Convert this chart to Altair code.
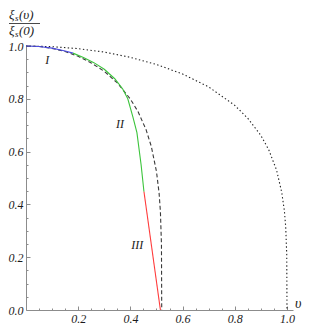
import altair as alt
import pandas as pd

# ---- data ----
dotted_v = [0, 0.1, 0.2, 0.3, 0.4, 0.5, 0.6, 0.7, 0.8, 0.85, 0.9, 0.93, 0.96, 0.98, 0.99, 0.995, 0.999, 1.0]
dotted_y = [1.0, 0.9975, 0.990, 0.977, 0.957, 0.930, 0.894, 0.845, 0.775, 0.726, 0.661, 0.607, 0.530, 0.445, 0.375, 0.316, 0.211, 0.0]

dashed_v = [0, 0.05, 0.1, 0.15, 0.2, 0.25, 0.3, 0.35, 0.4, 0.43, 0.46, 0.48, 0.5, 0.51, 0.515, 0.519, 0.52]
dashed_y = [1.0, 0.998, 0.991, 0.979, 0.961, 0.936, 0.904, 0.860, 0.799, 0.750, 0.683, 0.620, 0.524, 0.442, 0.372, 0.249, 0.0]

blue_v = [0, 0.05, 0.1, 0.15, 0.18]
blue_y = [1.0, 0.998, 0.992, 0.981, 0.973]

green_v = [0.18, 0.22, 0.26, 0.30, 0.34, 0.37, 0.39, 0.41, 0.425, 0.441, 0.452]
green_y = [0.973, 0.956, 0.937, 0.912, 0.876, 0.838, 0.800, 0.730, 0.672, 0.550, 0.448]

red_v = [0.452, 0.515]
red_y = [0.448, 0.0]

region_labels = ["I", "II", "III"]
region_v = [0.081, 0.36, 0.426]
region_y = [0.948, 0.705, 0.246]

x_major = [0.2, 0.4, 0.6, 0.8, 1.0]
y_major = [0.0, 0.2, 0.4, 0.6, 0.8, 1.0]
minor = [0.05, 0.1, 0.15, 0.25, 0.3, 0.35, 0.45, 0.5, 0.55, 0.65, 0.7, 0.75, 0.85, 0.9, 0.95]

# ---- layout ----
W, H = 267, 264
XMAX = 1.023
FONT = "Liberation Serif"
AX = "#8c8c8c"
TXT = "#1a1a1a"


def frame(v, y):
    return pd.DataFrame({"v": v, "y": y, "o": list(range(len(v)))})


xscale = alt.Scale(domain=[0, XMAX], nice=False, zero=False)
yscale = alt.Scale(domain=[0, 1], nice=False, zero=False)

lab = dict(labelFont=FONT, labelFontStyle="italic", labelFontSize=12, labelColor=TXT,
           labelFlush=False, labelOverlap=False)

main_x = alt.Axis(orient="bottom", values=x_major, format=".1f", ticks=False, grid=False,
                  domainColor=AX, domainWidth=1, labelPadding=3, title=None, **lab)
main_y = alt.Axis(orient="left", values=y_major, format=".1f", ticks=False, grid=False,
                  domainColor=AX, domainWidth=1, labelPadding=3, title=None, **lab)


def tick_axis(orient, vals, size):
    return alt.Axis(orient=orient, values=vals, labels=False, domain=False, ticks=True,
                    tickSize=size, offset=-size, tickColor=AX, tickWidth=1, grid=False, title=None)


def line(v, y, color, dash=None, width=1.1, axes=False):
    kw = dict(color=color, strokeWidth=width)
    if dash:
        kw["strokeDash"] = dash
    return alt.Chart(frame(v, y)).mark_line(**kw).encode(
        x=alt.X("v:Q", scale=xscale, axis=main_x if axes else None),
        y=alt.Y("y:Q", scale=yscale, axis=main_y if axes else None),
        order="o:Q",
    )


dotted = line(dotted_v, dotted_y, "#222222", dash=[1.4, 2.4], axes=True)

major_ticks = alt.Chart(frame(dotted_v, dotted_y)).mark_point(opacity=0).encode(
    x=alt.X("v:Q", scale=xscale, axis=tick_axis("bottom", x_major, 4)),
    y=alt.Y("y:Q", scale=yscale, axis=tick_axis("left", y_major, 4)),
)
minor_ticks = alt.Chart(frame(dotted_v, dotted_y)).mark_point(opacity=0).encode(
    x=alt.X("v:Q", scale=xscale, axis=tick_axis("bottom", minor, 2)),
    y=alt.Y("y:Q", scale=yscale, axis=tick_axis("left", minor, 2)),
)

dashed = line(dashed_v, dashed_y, "#3a3a3a", dash=[4, 2.5])
blue = line(blue_v, blue_y, "#4a4ae0")
green = line(green_v, green_y, "#3cc43c")
red = line(red_v, red_y, "#ff3a3a")

regions = alt.Chart(pd.DataFrame({"v": region_v, "y": region_y, "t": region_labels})).mark_text(
    font=FONT, fontStyle="italic", fontSize=12, color=TXT
).encode(
    x=alt.X("v:Q", scale=xscale, axis=None),
    y=alt.Y("y:Q", scale=yscale, axis=None),
    text="t:N",
)

one = pd.DataFrame({"k": [0]})


def piece(text, x, y, size):
    return alt.Chart(one).mark_text(text=text, font=FONT, fontStyle="italic", fontSize=size,
                                    color=TXT, align="left", baseline="alphabetic").encode(
        x=alt.value(x), y=alt.value(y))


title_parts = [
    piece("ξ", -17, -27, 13), piece("s", -11, -24.8, 9), piece("(υ)", -7, -27, 13),
    piece("ξ", -17, -11, 13), piece("s", -11, -8.8, 9), piece("(0)", -7, -11, 13),
]
bar = alt.Chart(one).mark_rule(color=TXT, strokeWidth=0.8).encode(
    x=alt.value(-17), x2=alt.value(14), y=alt.value(-22.5))

vlabel = alt.Chart(one).mark_text(text="υ", font=FONT, fontStyle="italic", fontSize=14,
                                  color=TXT, align="left", baseline="middle").encode(
    x=alt.value(269), y=alt.value(H - 6))

chart = alt.layer(
    dotted, major_ticks, minor_ticks, dashed, blue, green, red, regions, bar, vlabel, *title_parts
).resolve_axis(x="independent", y="independent").properties(
    width=W, height=H,
    padding={"left": 18, "top": 38, "right": 10, "bottom": 14},
    autosize=alt.AutoSizeParams(type="none"),
).configure_view(stroke=None)

chart.save("out.html", embed_options={"renderer": "svg", "actions": False})
